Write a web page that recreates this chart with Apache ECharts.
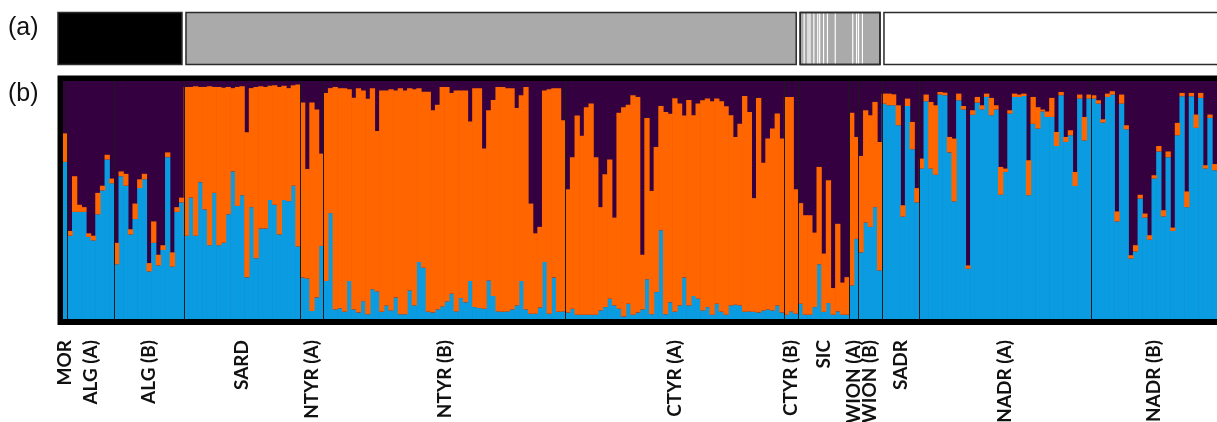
<!DOCTYPE html>
<html><head><meta charset="utf-8">
<script src="https://cdn.jsdelivr.net/npm/echarts@6/dist/echarts.min.js"></script>
<style>html,body{margin:0;padding:0;background:#fff}#c{width:1217px;height:422px}</style>
</head><body><div id="c"></div>
<script>
// ---- data ----
const populations = ['MOR','ALG (A)','ALG (B)','SARD','NTYR (A)','NTYR (B)','CTYR (A)','CTYR (B)','SIC','WION (A)','WION (B)','SADR','NADR (A)','NADR (B)'];
const popSizes = [1,10,15,25,5,52,47,3,11,2,5,8,37,27];

// ancestry proportion of the blue cluster (bottom of each bar)
const blueQ = [
  .66,
  .35,.45,.45,.45,.345,.33,.44,.54,.67,.57,
  .23,.60,.56,.355,.42,.55,.587,.20,.32,.225,.29,.68,.22,.45,.49,
  .35,.51,.35,.575,.46,.31,.53,.31,.32,.44,.62,.475,.52,.175,.47,.255,.38,.38,.50,.48,.355,.50,.495,.56,.305,
  .174,.17,.034,.09,.307,
  .16,.445,.04,.045,.03,.16,.04,.027,.075,.02,
  .125,.116,.03,.057,.036,.09,.02,.02,.12,.057,
  .24,.215,.03,.027,.04,.053,.074,.106,.032,.088,
  .07,.16,.05,.046,.043,.162,.097,.032,.03,.032,
  .04,.057,.16,.04,.022,.022,.048,.24,.022,.174,.03,.032,
  .027,.043,.018,.018,.018,.018,.018,
  .036,.05,.085,.057,.043,.01,.064,.018,.027,.04,
  .167,.02,.113,.373,.02,.07,.03,.057,.174,.057,
  .097,.085,.036,.05,.018,.064,.03,.018,.057,.06,
  .057,.03,.032,.03,.027,.036,.04,.036,.057,.027,
  .018,.032,.022,
  .064,.018,.018,.05,.23,.03,.067,.018,.032,.018,.018,
  .141,.337,
  .28,.405,.387,.47,.204,
  .905,.898,.898,.814,.43,.895,.713,.49,
  .632,.915,.632,.606,.943,.94,.70,.494,.919,.88,
  .211,.858,.909,.88,.933,.856,.88,.522,.618,.863,
  .933,.933,.937,.52,.82,.80,.872,.849,.849,.727,
  .94,.744,.772,.559,.926,.75,.926,
  .926,.905,.825,.933,.943,.41,.905,.797,.254,.284,
  .506,.426,.333,.59,.704,.431,.68,.37,.772,.936,
  .47,.936,.803,.929,.632,.845,.625
];
// ancestry proportion of the orange cluster (middle of each bar)
const orangeQ = [
  .12,
  .02,.15,.03,.02,.015,.02,.09,.02,.02,.02,
  .09,.02,.05,.022,.065,.037,.023,.035,.09,.045,.02,.02,.06,.02,.02,
  .625,.465,.628,.40,.515,.668,.445,.665,.652,.535,.35,.50,.458,.61,.50,.72,.598,.595,.48,.502,.62,.48,.475,.422,.68,
  .736,.46,.876,.79,.388,
  .79,.525,.935,.925,.94,.805,.89,.943,.885,.905,
  .845,.674,.93,.903,.929,.87,.95,.94,.85,.908,
  .73,.74,.925,.85,.86,.922,.901,.844,.928,.872,
  .89,.67,.92,.924,.673,.715,.823,.943,.945,.938,
  .93,.83,.78,.935,.463,.338,.339,.72,.943,.796,.94,.803,
  .518,.637,.837,.752,.872,.887,.662,
  .434,.558,.585,.369,.824,.88,.836,.922,.906,.23,
  .678,.518,.61,.522,.85,.792,.898,.848,.681,.863,
  .759,.82,.883,.876,.897,.862,.885,.876,.799,.705,
  .763,.907,.838,.478,.902,.621,.718,.764,.806,.731,
  .915,.901,.523,
  .423,.418,.418,.313,.409,.245,.516,.112,.368,.135,.158,
  .726,.428,
  .405,.472,.469,.442,.54,
  .042,.049,.046,.084,.048,.031,.115,.06,
  .042,.028,.28,.292,.011,.011,.065,.264,.028,.015,
  .014,.019,.024,.018,.014,.073,.018,.117,.014,.014,
  .014,.01,.01,.147,.113,.09,.008,.023,.08,.059,
  .014,.021,.021,.059,.017,.099,.017,
  .014,.014,.014,.014,.014,.042,.038,.017,.014,.026,
  .016,.017,.019,.014,.023,.026,.024,.014,.052,.014,
  .066,.014,.056,.021,.014,.014,.026
];
// (a) row: a-priori origin blocks (in individuals) and the striped block pattern
const originKinds = ['black','gray','mixed','white'];
const originSizes = [26,132,18,72];
const mixedPattern = 'gwgwwgwgwwgwgwgggwggggggggwgwwgwgggggggg';

// ---- derived layout helpers ----
const COL = {blue:'#0a9be0', orange:'#ff6600', purple:'#35003f'};
const N = blueQ.length;
const idx = blueQ.map((_, i) => i);
const bounds = [], centers = [];
let acc = 0;
popSizes.forEach(s => { centers.push(acc + s / 2); acc += s; bounds.push(acc); });
bounds.pop();
let os = 0;
const originData = originSizes.map((n, k) => { const r = [os, os + n, k]; os += n; return r; });

function renderOrigin(params, api) {
  const s = api.value(0), e = api.value(1), k = api.value(2);
  const a = api.coord([s, 1]), b = api.coord([e, 0]);
  const cs = params.coordSys;
  const x0 = k === 0 ? cs.x - 5 : a[0] + 2;
  const x1 = k === originKinds.length - 1 ? cs.x + cs.width + 10 : b[0] - 2;
  const y0 = a[1], h = b[1] - a[1];
  const kind = originKinds[k];
  const fill = {black:'#000', gray:'#aaaaaa', white:'#ffffff', mixed:'#aaaaaa'}[kind];
  const children = [{type:'rect', shape:{x:x0, y:y0, width:x1 - x0, height:h}, style:{fill, stroke:'#2b2b2b', lineWidth:1.5}}];
  if (kind === 'mixed') {
    const n = mixedPattern.length, w = (x1 - x0 - 2) / n;
    for (let i = 0; i < n; i++) {
      if (mixedPattern[i] === 'w') children.push({type:'rect', shape:{x:x0 + 1 + i * w + w * 0.2, y:y0 + 1, width:w * 0.6, height:h - 2}, style:{fill:'#ffffff'}});
    }
    children.push({type:'rect', shape:{x:x0, y:y0, width:x1 - x0, height:h}, style:{fill:'none', stroke:'#2b2b2b', lineWidth:1.5}});
  }
  return {type:'group', children};
}

const chart = echarts.init(document.getElementById('c'), null, {renderer:'canvas'});
chart.setOption({
  animation: false,
  backgroundColor: '#ffffff',
  title: [
    {text:'(a)', left:8, top:16, padding:0, textStyle:{fontFamily:'Liberation Sans', fontSize:25, fontWeight:'normal', color:'#111'}},
    {text:'(b)', left:8, top:82, padding:0, textStyle:{fontFamily:'Liberation Sans', fontSize:25, fontWeight:'normal', color:'#111'}}
  ],
  grid: [
    {left:60.5, top:78.5, right:-10, height:243.5, show:true, borderColor:'#000', borderWidth:6, backgroundColor:'transparent', outerBoundsMode:'none', containLabel:false},
    {left:63, top:81, right:0, height:238, show:true, borderWidth:0, backgroundColor:COL.purple, outerBoundsMode:'none', containLabel:false},
    {left:63, top:12.5, right:0, height:52, outerBoundsMode:'none', containLabel:false}
  ],
  xAxis: [
    {gridIndex:0, type:'value', show:false},
    {gridIndex:1, type:'category', data:idx, show:false, boundaryGap:true},
    {gridIndex:1, type:'value', min:0, max:N, position:'bottom', z:10,
      axisLine:{show:false}, splitLine:{show:false},
      axisTick:{show:true, inside:true, length:238, customValues:bounds, lineStyle:{color:'#1a1a1a', width:1}},
      axisLabel:{show:true, customValues:centers, rotate:90, margin:21, fontFamily:'Lato', fontWeight:'bold', fontSize:19, color:'#111',
        formatter: v => { const i = centers.findIndex(c => Math.abs(c - v) < 1e-6); return i >= 0 ? populations[i] : ''; }}
    },
    {gridIndex:2, type:'value', min:0, max:N, show:false}
  ],
  yAxis: [
    {gridIndex:0, type:'value', show:false},
    {gridIndex:1, type:'value', min:0, max:1, show:false},
    {gridIndex:2, type:'value', min:0, max:1, show:false}
  ],
  series: [
    {type:'bar', name:'blue', xAxisIndex:1, yAxisIndex:1, stack:'q', data:blueQ, barWidth:'114%',
      itemStyle:{color:COL.blue}, silent:true},
    {type:'bar', name:'orange', xAxisIndex:1, yAxisIndex:1, stack:'q', data:orangeQ, barWidth:'114%',
      itemStyle:{color:COL.orange}, silent:true},
    {type:'custom', xAxisIndex:3, yAxisIndex:2, data:originData, renderItem:renderOrigin, silent:true}
  ]
});
</script></body></html>
